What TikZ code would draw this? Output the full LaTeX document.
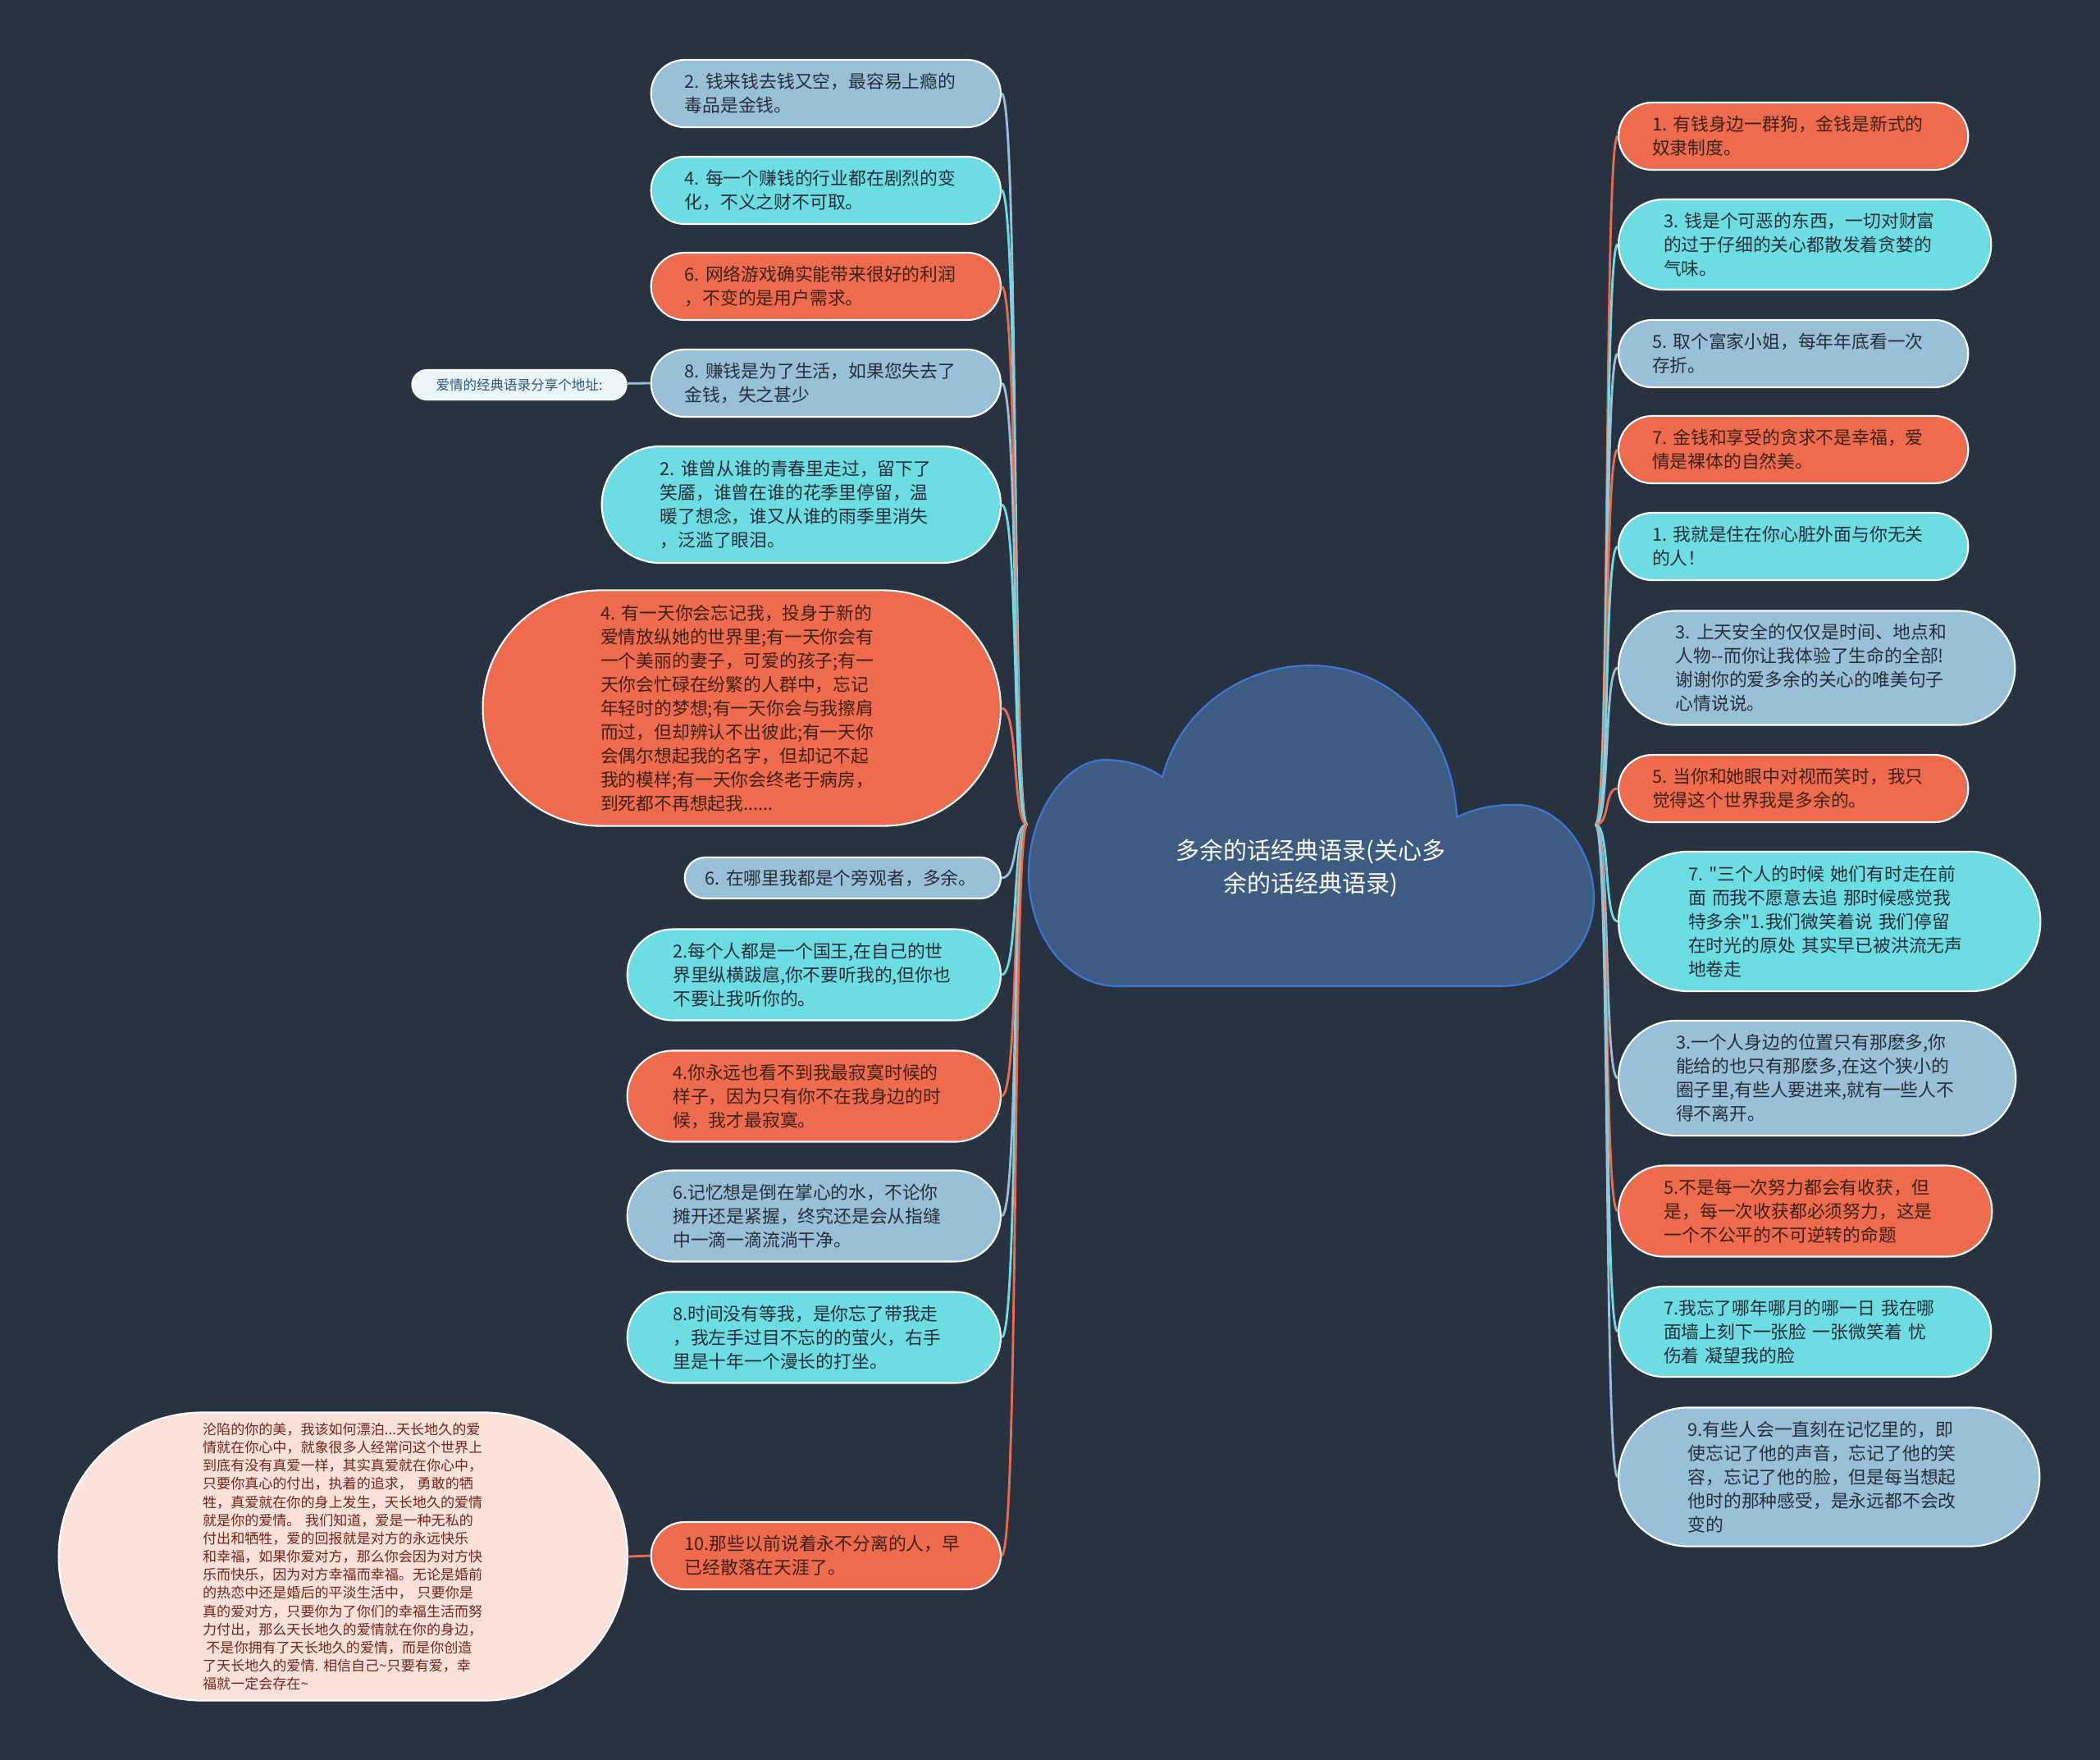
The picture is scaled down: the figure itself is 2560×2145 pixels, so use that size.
\documentclass[tikz,border=0pt]{standalone}
\usepackage{fontspec}
\setmainfont{Noto Sans CJK SC}[Ligatures=TeXOff]
\definecolor{bgc}{RGB}{41,50,65}
\definecolor{orangec}{RGB}{238,108,77}
\definecolor{cyanc}{RGB}{108,221,227}
\definecolor{greyc}{RGB}{152,192,216}
\definecolor{pinkc}{RGB}{253,226,219}
\definecolor{cloudc}{RGB}{62,91,130}
\definecolor{cloudline}{RGB}{58,122,214}
\definecolor{darkt}{RGB}{40,46,56}
\definecolor{brownt}{RGB}{62,32,24}
\definecolor{notet}{RGB}{115,38,24}
\definecolor{tipc}{RGB}{236,245,250}
\definecolor{tipt}{RGB}{42,90,125}
\newcommand{\leaffont}{\fontsize{6.2pt}{8.25pt}\selectfont}
\newcommand{\notefont}{\fontsize{4.85pt}{6.3pt}\selectfont}
\newcommand{\tipfont}{\fontsize{4.7pt}{6pt}\selectfont}
\newcommand{\rootfont}{\fontsize{8.25pt}{11.4pt}\selectfont}

\begin{document}
\begin{tikzpicture}[x=0.01cm, y=-0.01cm,
    pill/.style={rectangle, rounded corners=#1, inner xsep=#1, inner ysep=0pt, minimum height=2*#1, draw=white, line width=0.6pt},
    leaf/.style={pill=#1, text width=3.44cm, align=left, font=\leaffont},
    orangeleaf/.style={leaf=#1, fill=orangec, text=brownt},
    cyanleaf/.style={leaf=#1, fill=cyanc, text=darkt},
    greyleaf/.style={leaf=#1, fill=greyc, text=darkt},
    link/.style={line width=0.8pt},
    orangelink/.style={link, draw=orangec},
    cyanlink/.style={link, draw=cyanc},
    greylink/.style={link, draw=greyc}]
    \fill[bgc] (0,0) rectangle (2560,2145);
    \useasboundingbox (0,0) rectangle (2560,2145);

    \filldraw[fill=cloudc, draw=cloudline, line width=0.6pt] (1417,947) .. controls (1440,860) and (1520,811) .. (1597,811) .. controls (1690,811) and (1770,880) .. (1776,996) .. controls (1800,984) and (1825,980) .. (1853,981) .. controls (1905,984) and (1943,1040) .. (1943,1094) .. controls (1943,1160) and (1890,1202) .. (1828,1202) -- (1363,1202) .. controls (1300,1202) and (1254,1140) .. (1254,1065) .. controls (1254,990) and (1300,926) .. (1347,926) .. controls (1375,926) and (1400,935) .. (1417,947) -- cycle;
    \node[font=\rootfont, text=white, align=center] (0) at (1598,1058) {多余的话经典语录(关心多\\余的话经典语录)};
    \coordinate (lroot) at (1252,1005);
    \coordinate (rroot) at (1945,1005);

    \node[greyleaf=0.41cm, anchor=east] (1) at (1221,114) {2.~钱来钱去钱又空，最容易上瘾的\\毒品是金钱。};
    \node[cyanleaf=0.41cm, anchor=east] (2) at (1221,232) {4.~每一个赚钱的行业都在剧烈的变\\化，不义之财不可取。};
    \node[orangeleaf=0.41cm, anchor=east] (3) at (1221,349) {6.~网络游戏确实能带来很好的利润\\，不变的是用户需求。};
    \node[greyleaf=0.41cm, anchor=east] (4) at (1221,467) {8.~赚钱是为了生活，如果您失去了\\金钱，失之甚少};
    \node[cyanleaf=0.71cm, anchor=east] (5) at (1221,615) {2.~谁曾从谁的青春里走过，留下了\\笑靥，谁曾在谁的花季里停留，温\\暖了想念，谁又从谁的雨季里消失\\，泛滥了眼泪。};
    \node[orangeleaf=1.435cm, anchor=east] (6) at (1221,863) {4.~有一天你会忘记我，投身于新的\\爱情放纵她的世界里;有一天你会有\\一个美丽的妻子，可爱的孩子;有一\\天你会忙碌在纷繁的人群中，忘记\\年轻时的梦想;有一天你会与我擦肩\\而过，但却辨认不出彼此;有一天你\\会偶尔想起我的名字，但却记不起\\我的模样;有一天你会终老于病房，\\到死都不再想起我......};
    \node[greyleaf=0.25cm, text width=3.35cm, anchor=east] (7) at (1221,1070) {6.~在哪里我都是个旁观者，多余。};
    \node[cyanleaf=0.555cm, anchor=east] (8) at (1221,1188) {2.每个人都是一个国王,在自己的世\\界里纵横跋扈,你不要听我的,但你也\\不要让我听你的。};
    \node[orangeleaf=0.555cm, anchor=east] (9) at (1221,1336) {4.你永远也看不到我最寂寞时候的\\样子，因为只有你不在我身边的时\\候，我才最寂寞。};
    \node[greyleaf=0.555cm, anchor=east] (10) at (1221,1482) {6.记忆想是倒在掌心的水，不论你\\摊开还是紧握，终究还是会从指缝\\中一滴一滴流淌干净。};
    \node[cyanleaf=0.555cm, anchor=east] (11) at (1221,1630) {8.时间没有等我，是你忘了带我走\\，我左手过目不忘的的萤火，右手\\里是十年一个漫长的打坐。};
    \node[orangeleaf=0.41cm, anchor=east] (12) at (1221,1896) {10.那些以前说着永不分离的人，早\\已经散落在天涯了。};

    \node[orangeleaf=0.41cm, anchor=west] (13) at (1972,166) {1.~有钱身边一群狗，金钱是新式的\\奴隶制度。};
    \node[cyanleaf=0.55cm, anchor=west] (14) at (1972,298) {3.~钱是个可恶的东西，一切对财富\\的过于仔细的关心都散发着贪婪的\\气味。};
    \node[greyleaf=0.41cm, anchor=west] (15) at (1972,431) {5.~取个富家小姐，每年年底看一次\\存折。};
    \node[orangeleaf=0.41cm, anchor=west] (16) at (1972,548) {7.~金钱和享受的贪求不是幸福，爱\\情是裸体的自然美。};
    \node[cyanleaf=0.41cm, anchor=west] (17) at (1972,666) {1.~我就是住在你心脏外面与你无关\\的人！};
    \node[greyleaf=0.695cm, anchor=west] (18) at (1972,814) {3.~上天安全的仅仅是时间、地点和\\人物--而你让我体验了生命的全部!\\谢谢你的爱多余的关心的唯美句子\\心情说说。};
    \node[orangeleaf=0.41cm, anchor=west] (19) at (1972,961) {5.~当你和她眼中对视而笑时，我只\\觉得这个世界我是多余的。};
    \node[cyanleaf=0.85cm, anchor=west] (20) at (1972,1123) {7.~"三个人的时候 她们有时走在前\\面 而我不愿意去追 那时候感觉我\\特多余"1.我们微笑着说 我们停留\\在时光的原处 其实早已被洪流无声\\地卷走};
    \node[greyleaf=0.70cm, anchor=west] (21) at (1972,1314) {3.一个人身边的位置只有那麽多,你\\能给的也只有那麽多,在这个狭小的\\圈子里,有些人要进来,就有一些人不\\得不离开。};
    \node[orangeleaf=0.555cm, anchor=west] (22) at (1972,1476) {5.不是每一次努力都会有收获，但\\是，每一次收获都必须努力，这是\\一个不公平的不可逆转的命题};
    \node[cyanleaf=0.55cm, anchor=west] (23) at (1972,1623) {7.我忘了哪年哪月的哪一日 我在哪\\面墙上刻下一张脸 一张微笑着 忧\\伤着 凝望我的脸};
    \node[greyleaf=0.845cm, anchor=west] (24) at (1972,1800) {9.有些人会一直刻在记忆里的，即\\使忘记了他的声音，忘记了他的笑\\容，忘记了他的脸，但是每当想起\\他时的那种感受，是永远都不会改\\变的};

    \node[pill=0.18cm, fill=tipc, text width=2.25cm, align=center, font=\tipfont, text=tipt] (25) at (633,469) {爱情的经典语录分享个地址:};
    \node[pill=1.755cm, fill=pinkc, text width=3.42cm, align=left, font=\notefont, text=notet, anchor=east] (26) at (766,1897) {沦陷的你的美，我该如何漂泊...天长地久的爱\\情就在你心中，就象很多人经常问这个世界上\\到底有没有真爱一样，其实真爱就在你心中，\\只要你真心的付出，执着的追求，~勇敢的牺\\牲，真爱就在你的身上发生，天长地久的爱情\\就是你的爱情。~我们知道，爱是一种无私的\\付出和牺牲，爱的回报就是对方的永远快乐\\和幸福，如果你爱对方，那么你会因为对方快\\乐而快乐，因为对方幸福而幸福。无论是婚前\\的热恋中还是婚后的平淡生活中，~只要你是\\真的爱对方，只要你为了你们的幸福生活而努\\力付出，那么天长地久的爱情就在你的身边，\\\hspace{0.25em}不是你拥有了天长地久的爱情，而是你创造\\了天长地久的爱情.~相信自己\textasciitilde 只要有爱，幸\\福就一定会存在\textasciitilde};

    \draw[greylink] (lroot) .. controls +(-18,0) and +(21,0) .. (1.east);
    \draw[cyanlink] (lroot) .. controls +(-18,0) and +(21,0) .. (2.east);
    \draw[orangelink] (lroot) .. controls +(-18,0) and +(21,0) .. (3.east);
    \draw[greylink] (lroot) .. controls +(-18,0) and +(21,0) .. (4.east);
    \draw[cyanlink] (lroot) .. controls +(-18,0) and +(21,0) .. (5.east);
    \draw[orangelink] (lroot) .. controls +(-18,0) and +(21,0) .. (6.east);
    \draw[greylink] (lroot) .. controls +(-18,0) and +(21,0) .. (7.east);
    \draw[cyanlink] (lroot) .. controls +(-18,0) and +(21,0) .. (8.east);
    \draw[orangelink] (lroot) .. controls +(-18,0) and +(21,0) .. (9.east);
    \draw[greylink] (lroot) .. controls +(-18,0) and +(21,0) .. (10.east);
    \draw[cyanlink] (lroot) .. controls +(-18,0) and +(21,0) .. (11.east);
    \draw[orangelink] (lroot) .. controls +(-18,0) and +(21,0) .. (12.east);
    \draw[orangelink] (rroot) .. controls +(18,0) and +(-17,0) .. (13.west);
    \draw[cyanlink] (rroot) .. controls +(18,0) and +(-17,0) .. (14.west);
    \draw[greylink] (rroot) .. controls +(18,0) and +(-17,0) .. (15.west);
    \draw[orangelink] (rroot) .. controls +(18,0) and +(-17,0) .. (16.west);
    \draw[cyanlink] (rroot) .. controls +(18,0) and +(-17,0) .. (17.west);
    \draw[greylink] (rroot) .. controls +(18,0) and +(-17,0) .. (18.west);
    \draw[orangelink] (rroot) .. controls +(18,0) and +(-17,0) .. (19.west);
    \draw[cyanlink] (rroot) .. controls +(18,0) and +(-17,0) .. (20.west);
    \draw[greylink] (rroot) .. controls +(18,0) and +(-17,0) .. (21.west);
    \draw[orangelink] (rroot) .. controls +(18,0) and +(-17,0) .. (22.west);
    \draw[cyanlink] (rroot) .. controls +(18,0) and +(-17,0) .. (23.west);
    \draw[greylink] (rroot) .. controls +(18,0) and +(-17,0) .. (24.west);
    \draw[greylink] (25) -- (4.west);
    \draw[orangelink] (12.west) -- (26.east);
  \end{tikzpicture}
\end{document}
